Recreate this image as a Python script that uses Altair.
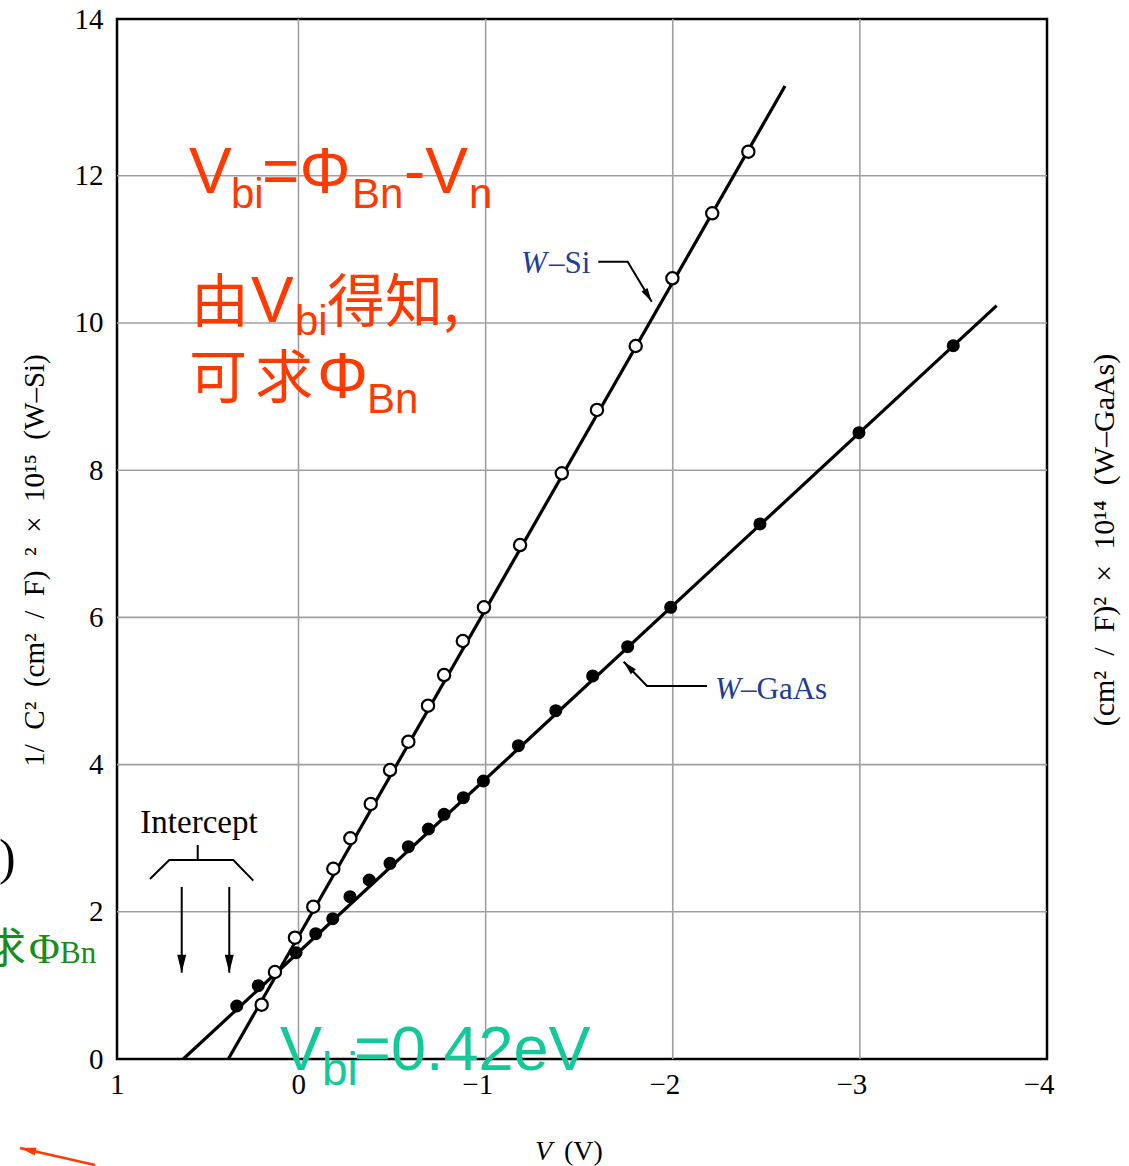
import math
import altair as alt
import pandas as pd

# ---------------- data ----------------
# W-Si (open circles): bias V (volts) and 1/C^2 (x1e15)
v_si = [0.197, 0.126, 0.019, -0.079, -0.186, -0.277, -0.386, -0.489, -0.587, -0.692,
        -0.778, -0.878, -0.991, -1.184, -1.407, -1.595, -1.802, -1.998, -2.211, -2.404]
c_si = [0.738, 1.182, 1.648, 2.069, 2.585, 2.999, 3.465, 3.926, 4.311, 4.800,
        5.217, 5.679, 6.137, 6.983, 7.958, 8.818, 9.687, 10.607, 11.490, 12.327]
# W-GaAs (filled circles): bias V and 1/C^2 (x1e14)
v_gaas = [0.330, 0.215, 0.013, -0.092, -0.183, -0.275, -0.378, -0.489, -0.587, -0.694, -0.778,
          -0.881, -0.988, -1.175, -1.375, -1.572, -1.759, -1.989, -2.466, -2.995, -3.499]
c_gaas = [0.720, 0.996, 1.444, 1.702, 1.906, 2.205, 2.432, 2.659, 2.884, 3.125, 3.325,
          3.550, 3.777, 4.257, 4.732, 5.204, 5.602, 6.137, 7.269, 8.509, 9.691]
# straight-line fits (end points)
fit_si_v = [0.375, -2.600]
fit_si_c = [0.0, 13.22]
fit_gaas_v = [0.616, -3.731]
fit_gaas_c = [0.0, 10.235]

# axes
x_domain = [-4, 0.97]
y_domain = [0, 14.13]
x_ticks = [0.97, 0, -1, -2, -3, -4]
y_ticks = [0, 2, 4, 6, 8, 10, 12, 14.13]
x_grid = [0, -1, -2, -3]
y_grid = [2, 4, 6, 8, 10, 12]
SP = "\u2002"
y_title = SP.join(["1/", "C²", "(cm²", "/", "F)", "²", "×", "10¹⁵", "(W–Si)"])
y2_title = SP.join(["(cm²", "/", "F)²", "×", "10¹⁴", "(W–GaAs)"])

# annotation polylines (in data units): name, colour key, points
leader_lines = [
    ("bracket", "black", [(0.794, 2.446), (0.6905, 2.704), (0.3485, 2.704), (0.2416, 2.423)]),
    ("stub", "black", [(0.5387, 2.908), (0.5387, 2.704)]),
    ("arrowL", "black", [(0.6242, 2.337), (0.6242, 1.172)]),
    ("arrowR", "black", [(0.370, 2.337), (0.370, 1.172)]),
    ("si", "black", [(-1.602, 10.833), (-1.759, 10.833), (-1.8875, 10.289)]),
    ("gaas", "black", [(-2.183, 5.068), (-1.8624, 5.068), (-1.7374, 5.398)]),
    ("red", "red", [(1.0876, -1.440), (1.488, -1.209)]),
]
arrow_kind = {"arrowL": "big", "arrowR": "big", "si": "small", "gaas": "small", "red": "red"}

# annotation texts: style, text, x (V), y (1/C^2)
notes = [
    ("red_main", "V", 0.585, 11.766),
    ("red_sub", "bi", 0.361, 11.562),
    ("red_main", "=Φ", 0.195, 11.766),
    ("red_sub", "Bn", -0.286, 11.562),
    ("red_main", "-V", -0.564, 11.766),
    ("red_sub", "n", -0.911, 11.562),
    ("red_cjk", "由", 0.575, 10.013),
    ("red_main", "V", 0.254, 10.013),
    ("red_sub", "bi", 0.019, 9.837),
    ("red_cjk", "得知,", -0.152, 10.013),
    ("red_cjk", "可", 0.585, 8.981),
    ("red_cjk", "求", 0.2325, 8.981),
    ("red_main", "Φ", -0.099, 8.981),
    ("red_sub", "Bn", -0.366, 8.777),
    ("green_main", "V", 0.099, -0.149),
    ("green_sub", "bi", -0.1255, -0.353),
    ("green_main", "=0.42eV", -0.297, -0.149),
    ("dg_cjk", "求", 1.681, 1.304),
    ("dg_main", "Φ", 1.440, 1.304),
    ("dg_sub", "Bn", 1.2746, 1.304),
    ("paren", ")", 1.6006, 2.514),
    ("intercept", "Intercept", 0.532, 3.071),
    ("blue_it", "W", -1.189, 10.679),
    ("blue", "–Si", -1.3387, 10.679),
    ("blue_it", "W", -2.226, 4.891),
    ("blue", "–GaAs", -2.365, 4.891),
    ("xt_it", "V", -1.264, -1.372),
    ("xt", "(V)", -1.419, -1.372),
    ("rtitle", y2_title, -4.310, 7.051),
]

# ---------------- styling ----------------
WIDTH, HEIGHT = 930, 1040
PAD = {"left": 117, "top": 19, "right": 82, "bottom": 107}
SERIF = "Liberation Serif"
SANS = "Liberation Sans"
CJK = "Noto Sans CJK SC"
RED = "#ff3a00"
GREEN = "#12c99a"
DKGREEN = "#1a8c1a"
BLUE = "#1f3c96"

STYLES = {
    "red_main": dict(font=SANS, fontSize=64, color=RED),
    "red_sub": dict(font=SANS, fontSize=42, color=RED),
    "red_cjk": dict(font=CJK, fontSize=58, color=RED),
    "green_main": dict(font=SANS, fontSize=63, color=GREEN),
    "green_sub": dict(font=SANS, fontSize=46, color=GREEN),
    "dg_cjk": dict(font=CJK, fontSize=42, color=DKGREEN),
    "dg_main": dict(font=SERIF, fontSize=42, color=DKGREEN),
    "dg_sub": dict(font=SERIF, fontSize=31, color=DKGREEN),
    "paren": dict(font=SERIF, fontSize=50, color="black"),
    "intercept": dict(font=SERIF, fontSize=33, color="black", align="center"),
    "blue_it": dict(font=SERIF, fontSize=31, color=BLUE, fontStyle="italic"),
    "blue": dict(font=SERIF, fontSize=31, color=BLUE),
    "xt_it": dict(font=SERIF, fontSize=28, color="black", fontStyle="italic"),
    "xt": dict(font=SERIF, fontSize=28, color="black"),
    "rtitle": dict(font=SERIF, fontSize=30, color="black", angle=270, align="center",
                   baseline="middle"),
}

xs = alt.Scale(domain=x_domain, reverse=True, nice=False, zero=False)
ys = alt.Scale(domain=y_domain, nice=False, zero=False)


def X(axis=None):
    if axis is None:
        return alt.X("x:Q", scale=xs, axis=None)
    return alt.X("x:Q", scale=xs, axis=axis)


def Y(axis=None):
    if axis is None:
        return alt.Y("y:Q", scale=ys, axis=None)
    return alt.Y("y:Q", scale=ys, axis=axis)


x_axis = alt.Axis(values=x_ticks, labelExpr="datum.value > 0.5 ? '1' : datum.label",
                  grid=False, ticks=False, domain=False, labelFont=SERIF, labelFontSize=29,
                  labelColor="black", labelPadding=11, labelAlign="right", labelOffset=7,
                  labelFlush=False, labelOverlap=False, title=None)
y_axis = alt.Axis(values=y_ticks, labelExpr="datum.value > 14 ? '14' : datum.label",
                  grid=False, ticks=False, domain=False, labelFont=SERIF, labelFontSize=29,
                  labelColor="black", labelPadding=14, labelFlush=False, labelOverlap=False,
                  title=y_title, titleFont=SERIF, titleFontSize=29, titleFontWeight="normal",
                  titleColor="black", titleAngle=270, titleX=-83, titleY=541,
                  titleAlign="center", titleBaseline="middle")

# ---------------- layers ----------------
layers = []

vgrid = pd.DataFrame({"x": x_grid})
layers.append(alt.Chart(vgrid).mark_rule(color="#a0a0a0", strokeWidth=1.6).encode(x=X()))
hgrid = pd.DataFrame({"y": y_grid})
layers.append(alt.Chart(hgrid).mark_rule(color="#a0a0a0", strokeWidth=1.6).encode(y=Y()))

fits = pd.DataFrame({
    "x": fit_si_v + fit_gaas_v,
    "y": fit_si_c + fit_gaas_c,
    "series": ["W-Si"] * len(fit_si_v) + ["W-GaAs"] * len(fit_gaas_v),
})
layers.append(alt.Chart(fits).mark_line(color="black", strokeWidth=3.2).encode(
    x=X(x_axis), y=Y(y_axis), detail="series:N"))

gaas = pd.DataFrame({"x": v_gaas, "y": c_gaas})
layers.append(alt.Chart(gaas).mark_circle(size=170, color="black", opacity=1).encode(
    x=X(), y=Y()))
si = pd.DataFrame({"x": v_si, "y": c_si})
layers.append(alt.Chart(si).mark_point(shape="circle", size=150, filled=True, fill="white",
                                       stroke="black", strokeWidth=2.2, opacity=1).encode(
    x=X(), y=Y()))

# annotation lines
rows = []
for name, col, pts in leader_lines:
    for k, (px, py) in enumerate(pts):
        rows.append({"id": name, "col": col, "k": k, "x": px, "y": py})
lines_df = pd.DataFrame(rows)
layers.append(alt.Chart(lines_df).transform_filter("datum.col == 'black'").mark_line(
    color="black", strokeWidth=2).encode(x=X(), y=Y(), detail="id:N", order="k:Q"))
layers.append(alt.Chart(lines_df).transform_filter("datum.col == 'red'").mark_line(
    color=RED, strokeWidth=2.5).encode(x=X(), y=Y(), detail="id:N", order="k:Q"))

# arrow heads, direction from the last segment of each polyline
PX_V = WIDTH / (x_domain[1] - x_domain[0])
PX_C = HEIGHT / (y_domain[1] - y_domain[0])
HEAD = "M0,0 L-0.5,-2 L0.5,-2 Z"
head_sizes = {"big": 324, "small": 196, "red": 256}
head_colors = {"big": "black", "small": "black", "red": RED}
for name, col, pts in leader_lines:
    if name not in arrow_kind:
        continue
    (x0, y0), (x1, y1) = pts[-2], pts[-1]
    dx = -(x1 - x0) * PX_V
    dy = -(y1 - y0) * PX_C
    ang = math.degrees(math.atan2(-dx, dy)) % 360
    kind = arrow_kind[name]
    hd = pd.DataFrame({"x": [x1], "y": [y1]})
    layers.append(alt.Chart(hd).mark_point(shape=HEAD, filled=True, color=head_colors[kind],
                                           size=head_sizes[kind], angle=ang, opacity=1,
                                           strokeWidth=0).encode(x=X(), y=Y()))

# annotation texts
notes_df = pd.DataFrame(notes, columns=["style", "text", "x", "y"])
for style, kw in STYLES.items():
    kw = dict(kw)
    kw.setdefault("align", "left")
    kw.setdefault("baseline", "alphabetic")
    layers.append(alt.Chart(notes_df).transform_filter(
        alt.datum.style == style).mark_text(**kw).encode(x=X(), y=Y(), text="text:N"))

chart = alt.layer(*layers).resolve_axis(x="independent", y="independent").properties(
    width=WIDTH, height=HEIGHT,
    autosize=alt.AutoSizeParams(type="none"),
    padding=PAD,
    background="white",
).configure_view(stroke="black", strokeWidth=2.5)

chart.save("out.html", embed_options={"renderer": "svg", "actions": False})
